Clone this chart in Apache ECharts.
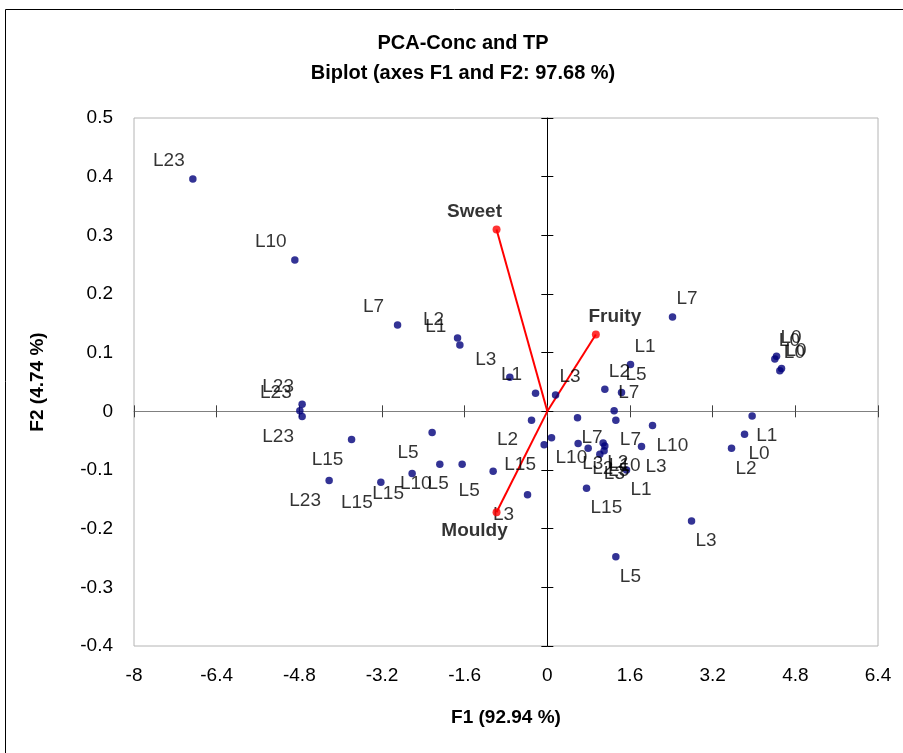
<!DOCTYPE html>
<html>
<head>
<meta charset="utf-8">
<script src="https://cdn.jsdelivr.net/npm/echarts@6/dist/echarts.min.js"></script>
<style>
  html, body { margin: 0; padding: 0; background: #fff; }
  #chart { width: 903px; height: 753px; }
</style>
</head>
<body>
<div id="chart"></div>
<script>
// Axis ticks
const xTicks = [-8, -6.4, -4.8, -3.2, -1.6, 0, 1.6, 3.2, 4.8, 6.4];
const yTicks = [-0.4, -0.3, -0.2, -0.1, 0, 0.1, 0.2, 0.3, 0.4, 0.5];

// Observations (factor scores on F1 / F2)
const obsNames = ['L23','L10','L7','L2','L1','L3','L1','L23','L23','L23',
                  'L15','L5','L23','L15','L15','L10','L5','L5','L3','L2',
                  'L15','L10','L7','L1','L2','L5','L3','L7','L7','L7',
                  'L10','L3','L2','L2','L10','L5','L3','L3','L1','L15',
                  'L3','L5','L2','L0','L1','L0','L0','L0','L0'];
const obsF1 = [-6.861, -4.887, -2.899, -1.738, -1.693, -0.726, -0.228, -4.746, -4.790, -4.746,
               -3.789, -2.230, -4.223, -3.222, -2.617, -2.081, -1.649, -1.049, -0.383, -0.306,
               -0.062, 0.081, 2.423, 1.610, 1.113, 1.436, 0.159, 1.293, 1.326, 0.584,
               2.036, 0.596, 0.790, 1.080, 1.113, 1.099, 1.016, 1.823, 1.533, 0.759,
               2.791, 1.326, 3.565, 3.817, 3.964, 4.436, 4.403, 4.533, 4.500];
const obsF2 = [0.396, 0.258, 0.147, 0.125, 0.113, 0.058, 0.031, 0.012, 0.001, -0.009,
               -0.048, -0.036, -0.118, -0.121, -0.106, -0.090, -0.090, -0.102, -0.142, -0.015,
               -0.057, -0.045, 0.161, 0.080, 0.0375, 0.032, 0.028, 0.001, -0.015, -0.011,
               -0.024, -0.055, -0.063, -0.054, -0.059, -0.067, -0.073, -0.060, -0.100, -0.131,
               -0.187, -0.248, -0.063, -0.039, -0.008, 0.094, 0.089, 0.073, 0.069];

// Variables (loadings on F1 / F2)
const varNames = ['Sweet', 'Fruity', 'Mouldy'];
const varF1 = [-0.983, 0.939, -0.983];
const varF2 = [0.310, 0.131, -0.172];

const FONT = "'Liberation Sans', Arial, Helvetica, sans-serif";

// labels sit outward from the origin, by quadrant
function obsLabel(x, y) {
  return {
    position: 'inside',
    align: x < 0 ? 'center' : 'left',
    offset: [x < 0 ? -24 : 4, y > 0 ? -18 : 20]
  };
}
function varLabel(x, y) {
  return {
    position: 'inside',
    align: 'center',
    offset: [x < 0 ? -22 : 19, y > 0 ? -18 : 19]
  };
}

const obsData = obsF1.map((x, i) => ({
  value: [x, obsF2[i], obsNames[i]],
  label: obsLabel(x, obsF2[i])
}));
const varData = varF1.map((x, i) => ({
  value: [x, varF2[i], varNames[i]],
  label: varLabel(x, varF2[i])
}));
const vectorSeries = varF1.map((x, i) => ({
  type: 'line',
  data: [[0, 0], [x, varF2[i]]],
  symbol: 'none',
  silent: true,
  z: 3,
  lineStyle: { color: '#ff0000', width: 2 }
}));

const xMin = xTicks[0], xMax = xTicks[xTicks.length - 1];
const xStep = +(xTicks[1] - xTicks[0]).toFixed(6);
const yMin = yTicks[0], yMax = yTicks[yTicks.length - 1];
const yStep = +(yTicks[1] - yTicks[0]).toFixed(6);

const fmt = v => String(+v.toFixed(2));

// a value axis used only for the frame labels, and two crossing axes through the origin
function xAxisBase(extra) {
  return Object.assign({
    type: 'value', min: xMin, max: xMax, interval: xStep, position: 'bottom',
    splitLine: { show: false }, axisLabel: { show: false },
    axisTick: { show: false }, axisLine: { show: false }
  }, extra);
}
function yAxisBase(extra) {
  return Object.assign({
    type: 'value', min: yMin, max: yMax, interval: yStep, position: 'left',
    splitLine: { show: false }, axisLabel: { show: false },
    axisTick: { show: false }, axisLine: { show: false }
  }, extra);
}

const chart = echarts.init(document.getElementById('chart'), null, { renderer: 'canvas' });
chart.setOption({
  animation: false,
  backgroundColor: '#fff',
  textStyle: { fontFamily: FONT },
  title: {
    text: 'PCA-Conc and TP\nBiplot (axes F1 and F2: 97.68 %)',
    left: 458, top: 23, textAlign: 'center',
    textStyle: { fontFamily: FONT, fontSize: 20, fontWeight: 'bold', color: '#000', lineHeight: 30 }
  },
  graphic: [{
    type: 'rect', silent: true,
    shape: { x: 5.5, y: 9.5, width: 1000, height: 1000 },
    style: { fill: 'none', stroke: '#000', lineWidth: 1 }
  }],
  grid: {
    left: 134, top: 118, width: 744, height: 528,
    show: true, borderColor: '#b4b4b4', borderWidth: 1, backgroundColor: 'transparent'
  },
  xAxis: [
    xAxisBase({
      axisLabel: { show: true, fontSize: 19, color: '#000', margin: 20, fontFamily: FONT, formatter: fmt },
      name: 'F1 (92.94 %)', nameLocation: 'middle', nameGap: 62,
      nameTextStyle: { fontSize: 19, fontWeight: 'bold', color: '#000', fontFamily: FONT }
    }),
    xAxisBase({
      axisLine: { show: true, onZero: true, onZeroAxisIndex: 0, lineStyle: { color: '#808080', width: 1 } },
      axisTick: { show: true, inside: false, length: 6, lineStyle: { color: '#404040' } }
    }),
    xAxisBase({
      axisLine: { show: false, onZero: true, onZeroAxisIndex: 0 },
      axisTick: { show: true, inside: true, length: 6, lineStyle: { color: '#404040' } }
    })
  ],
  yAxis: [
    yAxisBase({
      axisLabel: { show: true, fontSize: 19, color: '#000', margin: 21, fontFamily: FONT, formatter: fmt },
      name: 'F2 (4.74 %)', nameLocation: 'middle', nameGap: 87, nameRotate: 90,
      nameTextStyle: { fontSize: 19, fontWeight: 'bold', color: '#000', fontFamily: FONT }
    }),
    yAxisBase({
      axisLine: { show: true, onZero: true, onZeroAxisIndex: 0, lineStyle: { color: '#000', width: 1 } },
      axisTick: { show: true, inside: false, length: 6, lineStyle: { color: '#000' } }
    }),
    yAxisBase({
      axisLine: { show: false, onZero: true, onZeroAxisIndex: 0 },
      axisTick: { show: true, inside: true, length: 6, lineStyle: { color: '#000' } }
    })
  ],
  series: [
    ...vectorSeries,
    {
      type: 'scatter',
      data: obsData,
      symbol: 'circle', symbolSize: 7.5, z: 4,
      itemStyle: { color: '#00007a' },
      label: {
        show: true, formatter: p => p.value[2],
        fontSize: 19, color: '#000', textBorderWidth: 0, fontFamily: FONT, verticalAlign: 'middle'
      }
    },
    {
      type: 'scatter',
      data: varData,
      symbol: 'circle', symbolSize: 8, z: 5,
      itemStyle: { color: '#ff0000' },
      label: {
        show: true, formatter: p => p.value[2],
        fontSize: 19, fontWeight: 'bold', color: '#000', textBorderWidth: 0, fontFamily: FONT, verticalAlign: 'middle'
      }
    }
  ]
});
</script>
</body>
</html>
